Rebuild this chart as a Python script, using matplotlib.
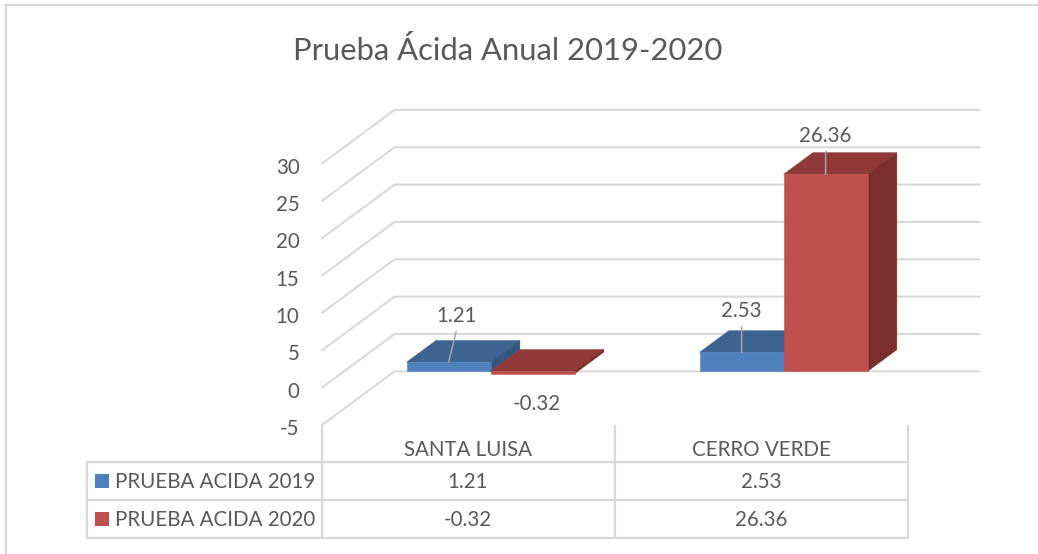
import matplotlib
matplotlib.use('Agg')
import matplotlib.pyplot as plt
from matplotlib.patches import Polygon, Rectangle
from matplotlib.lines import Line2D
from matplotlib.transforms import Affine2D, offset_copy, blended_transform_factory
import numpy as np

# ---------------- data ----------------
title = "Prueba Ácida Anual 2019-2020"
categories = ["SANTA LUISA", "CERRO VERDE"]
series_names = ["PRUEBA ACIDA 2019", "PRUEBA ACIDA 2020"]
values_2019 = [1.21, 2.53]
values_2020 = [-0.32, 26.36]
y_ticks = [-5, 0, 5, 10, 15, 20, 25, 30]

# ---------------- style ----------------
W, H = 1038, 554
FONT = ['Lato', 'DejaVu Sans']
plt.rcParams['font.family'] = FONT
TXT = '#595959'
GRID = '#D9D9D9'
FRONT = ['#4F81BD', '#C0504D']
TOP = ['#3D6391', '#8F3A38']
SIDE = ['#35567F', '#7A2F2D']
LEADER = '#A6A6A6'

fig = plt.figure(figsize=(W / 100, H / 100), dpi=100)
ax = fig.add_axes([0, 0, 1, 1])
ax.axis('off')

# pixel transform for layout items (x right, y down, in pixels)
PX = Affine2D().scale(1.0 / W, -1.0 / H).translate(0, 1) + fig.transFigure

# axis scale: category pitch, value scale, origin on front plane
CAT_PX, VAL_PX, X0, Y0 = 293.0, 7.47, 468.0, 388.0
ax.set_xlim(-X0 / CAT_PX, (W - X0) / CAT_PX)
ax.set_ylim(-(H - Y0) / VAL_PX, Y0 / VAL_PX)

# 3D depth projection (in data units)
DX = 73.0 / CAT_PX
DY = 54.0 / VAL_PX
D0, D1 = 0.31, 0.71
BW = 84.0 / CAT_PX

renderer = fig.canvas.get_renderer()


def fit_size(s, target_px, ref=20.0):
    t = fig.text(0, 0, s, fontsize=ref, family=FONT)
    w = t.get_window_extent(renderer=renderer).width
    t.remove()
    return ref * target_px / w


FS = 0.5 * (fit_size("PRUEBA ACIDA 2019", 198) + fit_size("26.36", 53))
FS_TITLE = fit_size(title, 431)

# ---------------- walls / gridlines ----------------
xl_cat, xr_cat = -0.5, len(categories) - 0.5
for t in y_ticks:
    ax.plot([xl_cat, xl_cat + DX, xr_cat + DX], [t, t + DY, t + DY],
            color=GRID, lw=1.5, zorder=1, solid_capstyle='butt')
    ax.text(xl_cat, t, str(t), fontsize=FS, color=TXT, ha='right', va='baseline',
            transform=offset_copy(ax.transData, fig=fig, x=-22, y=-9.7, units='dots'))

# ---------------- bars ----------------
idx = np.arange(len(categories))
for s, vals in enumerate([values_2019, values_2020]):
    vals = np.asarray(vals)
    centers = idx + (s - 0.5) * BW
    for i, v in enumerate(vals):
        xl = centers[i] - BW / 2
        xr = centers[i] + BW / 2
        lo, hi = min(0, v), max(0, v)
        top = [(xl + DX * D0, hi + DY * D0), (xr + DX * D0, hi + DY * D0),
               (xr + DX * D1, hi + DY * D1), (xl + DX * D1, hi + DY * D1)]
        side = [(xr + DX * D0, lo + DY * D0), (xr + DX * D1, lo + DY * D1),
                (xr + DX * D1, hi + DY * D1), (xr + DX * D0, hi + DY * D0)]
        ax.add_patch(Polygon(top, closed=True, facecolor=TOP[s], edgecolor=TOP[s],
                             lw=0.4, zorder=3 + 2 * s))
        ax.add_patch(Polygon(side, closed=True, facecolor=SIDE[s], edgecolor=SIDE[s],
                             lw=0.4, zorder=3 + 2 * s))
    ax.bar(centers + DX * D0, vals, width=BW, bottom=DY * D0, color=FRONT[s],
           edgecolor=FRONT[s], lw=0.4, zorder=4 + 2 * s)

# ---------------- data labels ----------------
# (dx px, baseline dy px, leader top dy px or None), y positive downward
label_offsets = [
    [(7.5, -40.6, -30.6), (0.0, -35.7, -25.7)],
    [(4.0, 36.3, None), (0.0, -32.7, -23.1)],
]
for s, vals in enumerate([values_2019, values_2020]):
    centers = idx + (s - 0.5) * BW
    for i, v in enumerate(vals):
        ax_x = centers[i] + DX * D0
        ax_y = v + DY * D0
        dx, dyb, dyl = label_offsets[s][i]
        ax.text(ax_x, ax_y, f"{v:.2f}", fontsize=FS, color=TXT, ha='center', va='baseline',
                transform=offset_copy(ax.transData, fig=fig, x=dx, y=-dyb, units='dots'),
                zorder=10)
        if dyl is not None:
            ax.annotate('', xy=(ax_x, ax_y), xytext=(dx * 0.72, -dyl * 0.72),
                        textcoords='offset points',
                        arrowprops=dict(arrowstyle='-', color=LEADER, lw=1.1,
                                        shrinkA=0, shrinkB=0), zorder=10)

# ---------------- data table ----------------
BT = blended_transform_factory(ax.transData, PX)
row_y = [462, 500, 537.5]
tbl_left = 87
line_kw = dict(color=GRID, lw=1.6, solid_capstyle='projecting', zorder=2)
for ry in row_y:
    fig.add_artist(Line2D([tbl_left, 907.5], [ry, ry], transform=PX, **line_kw))
fig.add_artist(Line2D([tbl_left, tbl_left], [462, 537.5], transform=PX, **line_kw))
ax.plot([xl_cat, xl_cat], [-5, -5], alpha=0)
for xb in np.arange(len(categories) + 1) - 0.5:
    top_px = 425.3 if xb == xl_cat else 425.8
    ax.add_line(Line2D([xb, xb], [top_px, 537.5], transform=BT, **line_kw))

for i, c in enumerate(categories):
    ax.text(i, 456, c, transform=BT, fontsize=FS, color=TXT, ha='center', va='baseline')
    ax.text(i, 488, f"{values_2019[i]:.2f}", transform=BT, fontsize=FS, color=TXT,
            ha='center', va='baseline')
    ax.text(i, 526, f"{values_2020[i]:.2f}", transform=BT, fontsize=FS, color=TXT,
            ha='center', va='baseline')

for s, name in enumerate(series_names):
    yc = [481, 518.7][s]
    fig.add_artist(Rectangle((95, yc - 7), 14, 14, transform=PX, facecolor=FRONT[s],
                             edgecolor='none'))
    fig.text(115, [488, 526][s], name, transform=PX, fontsize=FS, color=TXT,
             ha='left', va='baseline')

# ---------------- title ----------------
fig.text(507.5, 60, title, transform=PX, fontsize=FS_TITLE, color=TXT,
         ha='center', va='baseline')

# ---------------- chart border ----------------
fig.add_artist(Line2D([6, 6], [5, H + 2], transform=PX, color=GRID, lw=1.6))
fig.add_artist(Line2D([6, W + 2], [5, 5], transform=PX, color=GRID, lw=1.6))

fig.savefig('out.png', dpi=100)
